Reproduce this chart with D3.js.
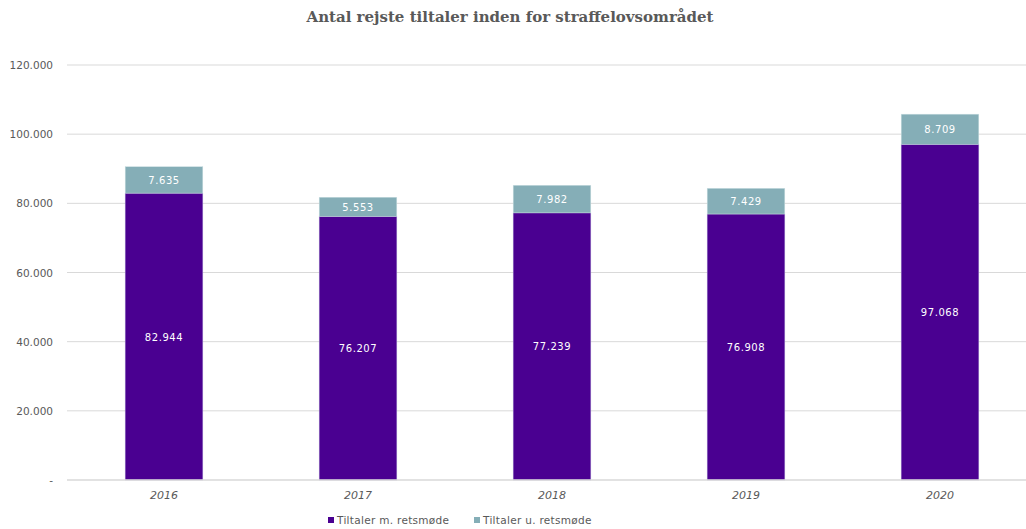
<!DOCTYPE html>
<html><head><meta charset="utf-8">
<script src="https://cdn.jsdelivr.net/npm/d3@7"></script>
<style>body{margin:0;background:#fff}svg{display:block}</style>
</head><body>
<svg id="c" width="1026" height="529"></svg>
<script>
const years = ["2016","2017","2018","2019","2020"];
const medRetsmode = [82944, 76207, 77239, 76908, 97068];
const udenRetsmode = [7635, 5553, 7982, 7429, 8709];
const seriesNames = ["Tiltaler m. retsmøde", "Tiltaler u. retsmøde"];
const yTicks = [0, 20000, 40000, 60000, 80000, 100000, 120000];
const title = "Antal rejste tiltaler inden for straffelovsområdet";

const colors = ["#4a0091", "#85aeb7"];
const svg = d3.select("#c");
const fmt = v => v === 0 ? "-" : d3.format(",")(v).replace(/,/g, ".");

const x = d3.scaleBand().domain(years).range([67, 1037]).paddingInner(0.6).paddingOuter(0.3);
const y = d3.scaleLinear().domain([0, 120000]).range([480, 65]);

svg.append("text").attr("x", 510).attr("y", 22).attr("text-anchor", "middle")
  .attr("font-family", "DejaVu Serif").attr("font-weight", "bold").attr("font-size", 15)
  .attr("fill", "#595959").text(title);

// gridlines
svg.append("g").selectAll("line").data(yTicks.filter(d => d > 0)).join("line")
  .attr("x1", 67).attr("x2", 1026).attr("y1", d => y(d)).attr("y2", d => y(d))
  .attr("stroke", "#d9d9d9").attr("stroke-width", 1);

// y labels
svg.append("g").selectAll("text").data(yTicks).join("text")
  .attr("x", 53).attr("y", d => y(d) + 4).attr("text-anchor", "end")
  .attr("font-family", "DejaVu Sans").attr("font-size", 10.5).attr("fill", "#595959")
  .text(fmt);

const data = years.map((yr, i) => ({yr, a: medRetsmode[i], b: udenRetsmode[i]}));
const g = svg.append("g");
g.selectAll("rect.a").data(data).join("rect").attr("class", "a")
  .attr("x", d => x(d.yr)).attr("width", x.bandwidth())
  .attr("y", d => y(d.a)).attr("height", d => y(0) - y(d.a))
  .attr("fill", colors[0]).attr("stroke", "#9b86c9").attr("stroke-width", 0.5);
g.selectAll("rect.b").data(data).join("rect").attr("class", "b")
  .attr("x", d => x(d.yr)).attr("width", x.bandwidth())
  .attr("y", d => y(d.a + d.b)).attr("height", d => y(d.a) - y(d.a + d.b))
  .attr("fill", colors[1]).attr("stroke", "#c9dde1").attr("stroke-width", 0.5);

// baseline
svg.append("line").attr("x1", 67).attr("x2", 1026).attr("y1", y(0)).attr("y2", y(0))
  .attr("stroke", "#d9d9d9").attr("stroke-width", 1.5);

// labels
const lab = svg.append("g").attr("font-family", "DejaVu Sans").attr("font-size", 10)
  .attr("letter-spacing", 0.6).attr("fill", "#fff").attr("text-anchor", "middle");
lab.selectAll("text.a").data(data).join("text").attr("class", "a")
  .attr("x", d => x(d.yr) + x.bandwidth() / 2).attr("y", d => (y(d.a) + y(0)) / 2 + 4)
  .text(d => fmt(d.a));
lab.selectAll("text.b").data(data).join("text").attr("class", "b")
  .attr("x", d => x(d.yr) + x.bandwidth() / 2).attr("y", d => (y(d.a) + y(d.a + d.b)) / 2 + 4)
  .text(d => fmt(d.b));

// x labels
svg.append("g").selectAll("text").data(years).join("text")
  .attr("x", d => x(d) + x.bandwidth() / 2).attr("y", 499).attr("text-anchor", "middle")
  .attr("font-family", "DejaVu Sans").attr("font-style", "italic").attr("font-size", 11)
  .attr("fill", "#595959").text(d => d);

// legend
const leg = svg.append("g");
const lx = [328, 474];
seriesNames.forEach((n, i) => {
  leg.append("rect").attr("x", lx[i]).attr("y", 517).attr("width", 6).attr("height", 6).attr("fill", colors[i]);
  leg.append("text").attr("x", lx[i] + 9).attr("y", 524).attr("font-family", "DejaVu Sans")
    .attr("font-size", 10.5).attr("letter-spacing", 0.3).attr("fill", "#595959").text(n);
});
</script>
</body></html>
